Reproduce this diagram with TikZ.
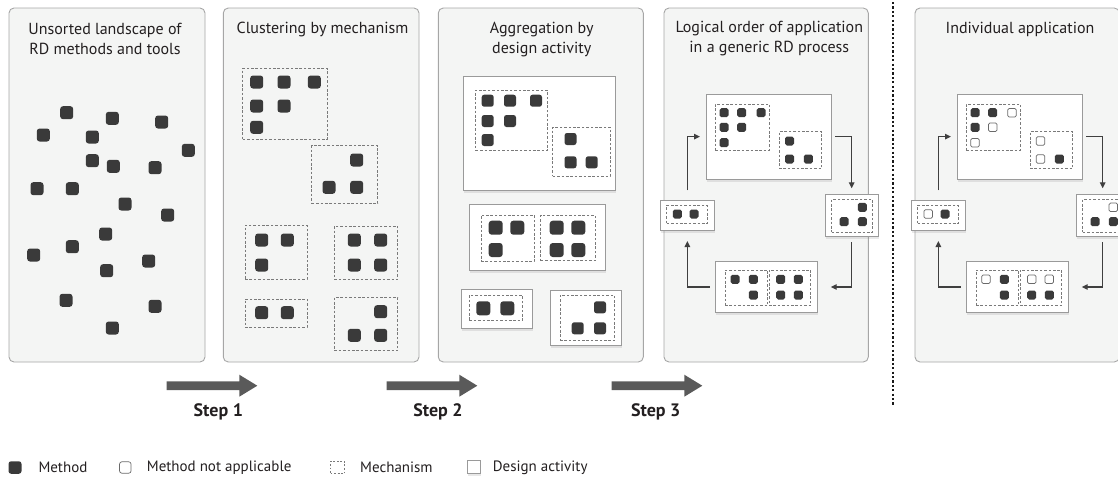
\documentclass[tikz,border=0pt]{standalone}
\usepackage{fontspec}
\setmainfont{PT Sans}
\usetikzlibrary{arrows.meta,shadows}
\definecolor{panelfill}{HTML}{F4F5F4}
\definecolor{panelc}{HTML}{A6A6A6}
\definecolor{sqc}{HTML}{3A3A3A}
\definecolor{mechc}{HTML}{7A7A7A}
\definecolor{actc}{HTML}{9A9A9A}
\definecolor{stepc}{HTML}{5A5A5A}
\definecolor{connc}{HTML}{3F3F3F}
\definecolor{txtc}{HTML}{231F20}
\definecolor{hollc}{HTML}{6A6A6A}
\tikzset{
  panel/.style={draw=panelc, fill=panelfill, line width=0.9pt, rounded corners=5pt, inner sep=0, outer sep=0},
  mech/.style={draw=mechc, line width=0.8pt, dash pattern=on 2.6pt off 1.8pt, inner sep=0, outer sep=0},
  act/.style={draw=actc, fill=white, line width=0.8pt, inner sep=0, outer sep=0,
    drop shadow={opacity=0.18, shadow xshift=0.6pt, shadow yshift=-2.6pt}},
  mbase/.style={fill=sqc, inner sep=0, outer sep=0},
  mA/.style={mbase, rounded corners=2.8pt, minimum size=13pt},
  mB/.style={mbase, rounded corners=2.5pt, minimum size=12pt},
  mC/.style={mbase, rounded corners=3pt, minimum size=14pt},
  mD/.style={mbase, rounded corners=1.8pt, minimum size=9pt},
  hD/.style={draw=hollc, fill=white, line width=0.7pt, rounded corners=1.4pt, minimum size=8.5pt, inner sep=0, outer sep=0},
  title/.style={font=\fontsize{16}{20}\selectfont, text=txtc, align=center},
  steplbl/.style={font=\fontsize{18}{20}\selectfont\bfseries, text=txtc},
  legend/.style={font=\fontsize{15}{16}\selectfont, text=txtc, anchor=west, inner sep=0},
  conn/.style={draw=connc, line width=1.3pt, -{Triangle[length=6pt,width=5.5pt]}},
}
\newcommand\bx[6]{\node[#1, minimum width={#5-#3}, minimum height={#6-#4}] (#2) at ({(#3+#5)/2},{(#4+#6)/2}) {};}
\newcommand\steparrow[1]{\fill[stepc] (#1,381.3) -- ({#1+72.6},381.3) -- ({#1+72.6},374.7) -- ({#1+90.6},385.7) -- ({#1+72.6},396.7) -- ({#1+72.6},390.1) -- (#1,390.1) -- cycle;}
\begin{document}
\begin{tikzpicture}[x=1pt,y=-1pt]
\useasboundingbox (0,0) rectangle (1118,477);
\clip (0,0) rectangle (1118,477);

% ---------- Panel 1
\bx{panel}{P1}{9}{8}{205}{362}
\node[title] (t1) at (105,39) {Unsorted landscape of\\RD methods and tools};
\foreach \x/\y [count=\i] in {66.7/112.7, 112.3/118.3, 161.7/122, 43.3/135, 92.3/137, 188.3/150.3, 92.3/160.7, 113.3/166.3, 155/167.7, 37/188.7, 72.3/188.7, 125/204, 167.7/215, 105.7/234, 72.3/246.7, 33.7/255, 148.7/261, 106.7/270.7, 66/300.3, 155/306.3, 112.3/328}
  \node[mA] (a\i) at (\x,\y) {};

% ---------- Panel 2
\bx{panel}{P2}{223.3}{8}{419}{362}
\node[title] (t2) at (322.5,29) {Clustering by mechanism};
\bx{mech}{c2A}{242.7}{68.3}{327}{139.3}
\bx{mech}{c2B}{311.7}{145.7}{377.7}{203.3}
\bx{mech}{c2C}{245}{225.3}{307}{279.3}
\bx{mech}{c2D}{334.3}{226}{397.7}{279.3}
\bx{mech}{c2E}{245}{299}{307}{327.3}
\bx{mech}{c2F}{334.3}{297.3}{397.7}{350.7}
\foreach \x/\y [count=\i] in {256.7/82, 284/82, 314.3/82, 256.7/106, 284/106, 256.7/127.3,
  356.7/160, 329/187.3, 356.7/187.3,
  261.7/240, 287.3/240, 261.7/265,
  354.3/240, 380.7/240, 354.3/265, 380.7/265,
  261.7/312.7, 287.3/312.7,
  380.7/311.7, 354.3/335.3, 380.7/335.3}
  \node[mA] (b\i) at (\x,\y) {};

% ---------- Panel 3
\bx{panel}{P3}{438.3}{8}{643.3}{362}
\node[title] (t3) at (541.7,40) {Aggregation by\\design activity};
\bx{act}{d1}{463.7}{76}{615.7}{190}
\bx{act}{d2}{469.3}{204}{605.3}{270.7}
\bx{act}{d3}{461.7}{289.3}{532.3}{328.3}
\bx{act}{d4}{550.7}{290}{621.7}{345}
\bx{mech}{c3A}{475.7}{90}{547.3}{150.7}
\bx{mech}{c3B}{552.7}{127}{610}{176}
\bx{mech}{c3C}{481}{215}{534}{261.7}
\bx{mech}{c3D}{540.7}{215}{595}{260.7}
\bx{mech}{c3E}{469.3}{295}{522.3}{320.7}
\bx{mech}{c3F}{560}{295}{614.3}{340.7}
\foreach \x/\y [count=\i] in {487.7/100.7, 510/100.7, 536/100.7, 487.7/121, 510/121, 487.7/140,
  570.5/139, 570.5/162.3, 591.7/162.3, 600/307.3, 577.7/328.3, 600/328.3}
  \node[mB] (c\i) at (\x,\y) {};
\foreach \x/\y [count=\i] in {495.7/227.7, 517.3/227.7, 495.7/250,
  556.7/227.7, 578.3/227.7, 556.7/250, 578.3/250, 483.3/308.3, 507.3/308.3}
  \node[mC] (cc\i) at (\x,\y) {};

% ---------- Panel 4
\bx{panel}{P4}{664}{8}{868.3}{362}
\node[title] (t4) at (769.3,39) {Logical order of application\\in a generic RD process};
\bx{act}{T4}{706}{94}{831.7}{179.3}
\bx{act}{R4}{825}{194.3}{878.3}{236}
\bx{act}{L4}{660.7}{200.3}{714}{230}
\bx{act}{B4}{715.7}{261.7}{817.7}{312.3}
\bx{mech}{c4A}{715.3}{104}{769.3}{150}
\bx{mech}{c4B}{779}{131.7}{821.7}{168.7}
\bx{mech}{c4C}{831.7}{199.3}{872.3}{232.3}
\bx{mech}{c4D}{666.7}{205.3}{707.3}{223.3}
\bx{mech}{c4E}{725}{270}{767.7}{305.7}
\bx{mech}{c4F}{769}{270}{810.7}{305.7}
\foreach \x/\y [count=\i] in {724/112.7, 741.7/112.7, 761/112.7, 724/127.3, 741.7/127.3, 724/142.7,
  789.5/141, 789.5/159, 808.3/159,
  862.3/207.3, 844/221.7, 862.3/221.7,
  677.3/214, 694/214,
  735/279.3, 753.3/279.3, 753.3/295,
  780.7/279.3, 798.3/279.3, 780.7/295, 798.3/295}
  \node[mD] (e\i) at (\x,\y) {};
\draw[conn, shorten <=10pt, shorten >=6pt] (L4.north) |- (T4.west);
\draw[conn, shorten <=3.3pt, shorten >=6pt] (T4.east) -| (R4.north);
\draw[conn, shorten <=6pt, shorten >=13pt] (R4.south) |- (B4.east);
\draw[conn, shorten <=6pt, shorten >=11pt] (B4.west) -| (L4.south);

% ---------- Separator
\draw[line width=2.2pt, dash pattern=on 2.2pt off 2.2pt, black!90] (892.7,2) -- (892.7,405);

% ---------- Panel 5
\bx{panel}{P5}{915}{8}{1119.3}{362}
\node[title] (t5) at (1020,29) {Individual application};
\bx{act}{T5}{957}{94}{1082.7}{179.3}
\bx{act}{R5}{1076}{194.3}{1129.3}{236}
\bx{act}{L5}{911.7}{200.3}{965}{230}
\bx{act}{B5}{966.7}{261.7}{1068.7}{312.3}
\bx{mech}{c5A}{966.3}{104}{1020.3}{150}
\bx{mech}{c5B}{1030}{131.7}{1072.7}{168.7}
\bx{mech}{c5C}{1082.7}{199.3}{1123.3}{232.3}
\bx{mech}{c5D}{917.7}{205.3}{958.3}{223.3}
\bx{mech}{c5E}{976}{270}{1018.7}{305.7}
\bx{mech}{c5F}{1020}{270}{1061.7}{305.7}
\foreach \x/\y [count=\i] in {975/112.7, 992.7/112.7, 975/127.3, 1059.3/159,
  1095/221.7, 1113.3/221.7, 945/214, 1004.3/279.3, 1004.3/295, 1031.7/295, 1049.3/295}
  \node[mD] (f\i) at (\x,\y) {};
\foreach \x/\y [count=\i] in {1012/112.7, 992.7/127.3, 975/142.7, 1040.5/141, 1040.5/159,
  1113.3/207.3, 928.3/214, 986/279.3, 1031.7/279.3, 1049.3/279.3}
  \node[hD] (g\i) at (\x,\y) {};
\draw[conn, shorten <=10pt, shorten >=6pt] (L5.north) |- (T5.west);
\draw[conn, shorten <=3.3pt, shorten >=6pt] (T5.east) -| (R5.north);
\draw[conn, shorten <=6pt, shorten >=13pt] (R5.south) |- (B5.east);
\draw[conn, shorten <=6pt, shorten >=11pt] (B5.west) -| (L5.south);

% ---------- Steps
\steparrow{166.7}
\steparrow{386.7}
\steparrow{611.7}
\node[steplbl] (s1) at (218.3,411.7) {Step 1};
\node[steplbl] (s2) at (438,411.7) {Step 2};
\node[steplbl] (s3) at (655.7,411.7) {Step 3};

% ---------- Legend
\node[mbase, rounded corners=2.6pt, minimum width=13pt, minimum height=12.5pt] (lg1) at (15,467.5) {};
\node[legend] (lt1) at (38.3,467.5) {Method};
\node[hD, minimum size=11.5pt, rounded corners=2.4pt] (lg2) at (125.3,467.5) {};
\node[legend] (lt2) at (146.7,467.5) {Method not applicable};
\node[mech, minimum width=14pt, minimum height=12.5pt, dash pattern=on 1.8pt off 1.8pt] (lg3) at (337.5,467.5) {};
\node[legend] (lt3) at (360,467.5) {Mechanism};
\node[act, minimum size=12.5pt] (lg4) at (473.7,467) {};
\node[legend] (lt4) at (492.7,467.5) {Design activity};
\end{tikzpicture}
\end{document}
